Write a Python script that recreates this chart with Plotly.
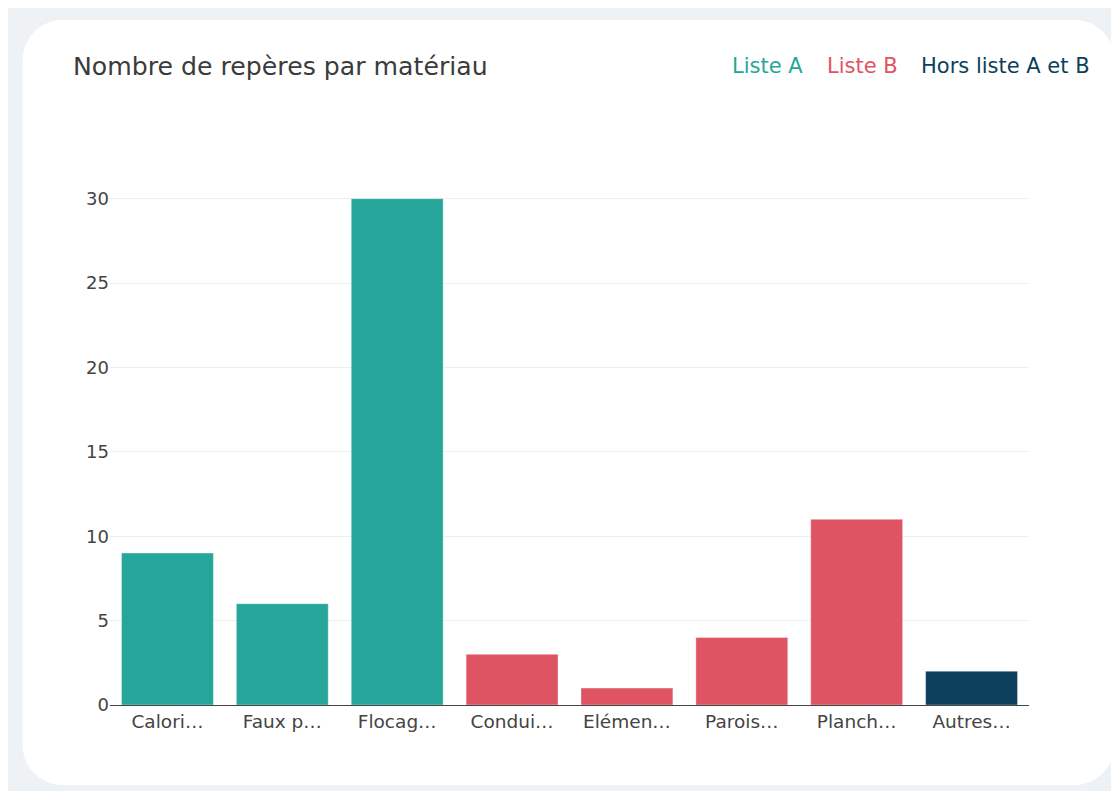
import plotly.graph_objects as go

# ---- data ----
categories = ["Calori…", "Faux p…", "Flocag…", "Condui…", "Elémen…", "Parois…", "Planch…", "Autres…"]
values = [9, 6, 30, 3, 1, 4, 11, 2]
groups = ["Liste A", "Liste A", "Liste A", "Liste B", "Liste B", "Liste B", "Liste B", "Hors liste A et B"]
group_names = ["Liste A", "Liste B", "Hors liste A et B"]
group_colors = {"Liste A": "#26a69a", "Liste B": "#df5462", "Hors liste A et B": "#0b3f5b"}
title_text = "Nombre de repères par matériau"

W, H = 1111, 783
ML, MR, MT, MB = 101.5, 89.5, 164, 86
PW, PH = W - ML - MR, H - MT - MB


def px(x):
    return (x - ML) / PW


def py(y):
    return (H - MB - y) / PH


fig = go.Figure()
for g in group_names:
    xs = [c for c, gg in zip(categories, groups) if gg == g]
    ys = [v for v, gg in zip(values, groups) if gg == g]
    fig.add_trace(go.Bar(
        x=xs, y=ys, name=g,
        marker=dict(color=group_colors[g], line=dict(color="rgba(255,255,255,0.6)", width=0.6)),
        showlegend=False,
    ))

# card (rounded white rectangle) in figure pixels
x0, x1, y0, y1, r = 14, 1107, 12, 777, 40
k = 0.5523 * r
path = (
    f"M {px(x0 + r)},{py(y0)} L {px(x1 - r)},{py(y0)} "
    f"C {px(x1 - r + k)},{py(y0)} {px(x1)},{py(y0 + r - k)} {px(x1)},{py(y0 + r)} "
    f"L {px(x1)},{py(y1 - r)} "
    f"C {px(x1)},{py(y1 - r + k)} {px(x1 - r + k)},{py(y1)} {px(x1 - r)},{py(y1)} "
    f"L {px(x0 + r)},{py(y1)} "
    f"C {px(x0 + r - k)},{py(y1)} {px(x0)},{py(y1 - r + k)} {px(x0)},{py(y1 - r)} "
    f"L {px(x0)},{py(y0 + r)} "
    f"C {px(x0)},{py(y0 + r - k)} {px(x0 + r - k)},{py(y0)} {px(x0 + r)},{py(y0)} Z"
)
fig.add_shape(type="path", path=path, xref="paper", yref="paper",
              fillcolor="white", line=dict(width=0), layer="below")

# legend as coloured text
legend_right = {"Liste A": 797, "Liste B": 892, "Hors liste A et B": 1085}
for g in group_names:
    fig.add_annotation(x=px(legend_right[g]), y=py(58), xref="paper", yref="paper",
                       text=g, showarrow=False, xanchor="right", yanchor="middle",
                       font=dict(family="DejaVu Sans", size=21, color=group_colors[g]))

fig.update_layout(
    width=W, height=H,
    margin=dict(l=ML, r=MR, t=MT, b=MB),
    paper_bgcolor="#eef2f5",
    plot_bgcolor="rgba(0,0,0,0)",
    barmode="overlay",
    bargap=0.2,
    title=dict(text=title_text, xref="container", yref="container",
               x=65 / W, y=1 - 58 / H, xanchor="left", yanchor="middle",
               font=dict(family="DejaVu Sans", size=25.2, color="#3b3b3b")),
    xaxis=dict(showline=True, linecolor="#444", linewidth=1, showgrid=False,
               tickfont=dict(family="DejaVu Sans", size=18.5, color="#444"),
               categoryorder="array", categoryarray=categories),
    yaxis=dict(range=[0, 31.58], dtick=5, showgrid=True, gridcolor="#eeeeee",
               zeroline=False, tickfont=dict(family="DejaVu Sans", size=18, color="#444")),
    font=dict(family="DejaVu Sans"),
)

fig.write_html("out.html")
